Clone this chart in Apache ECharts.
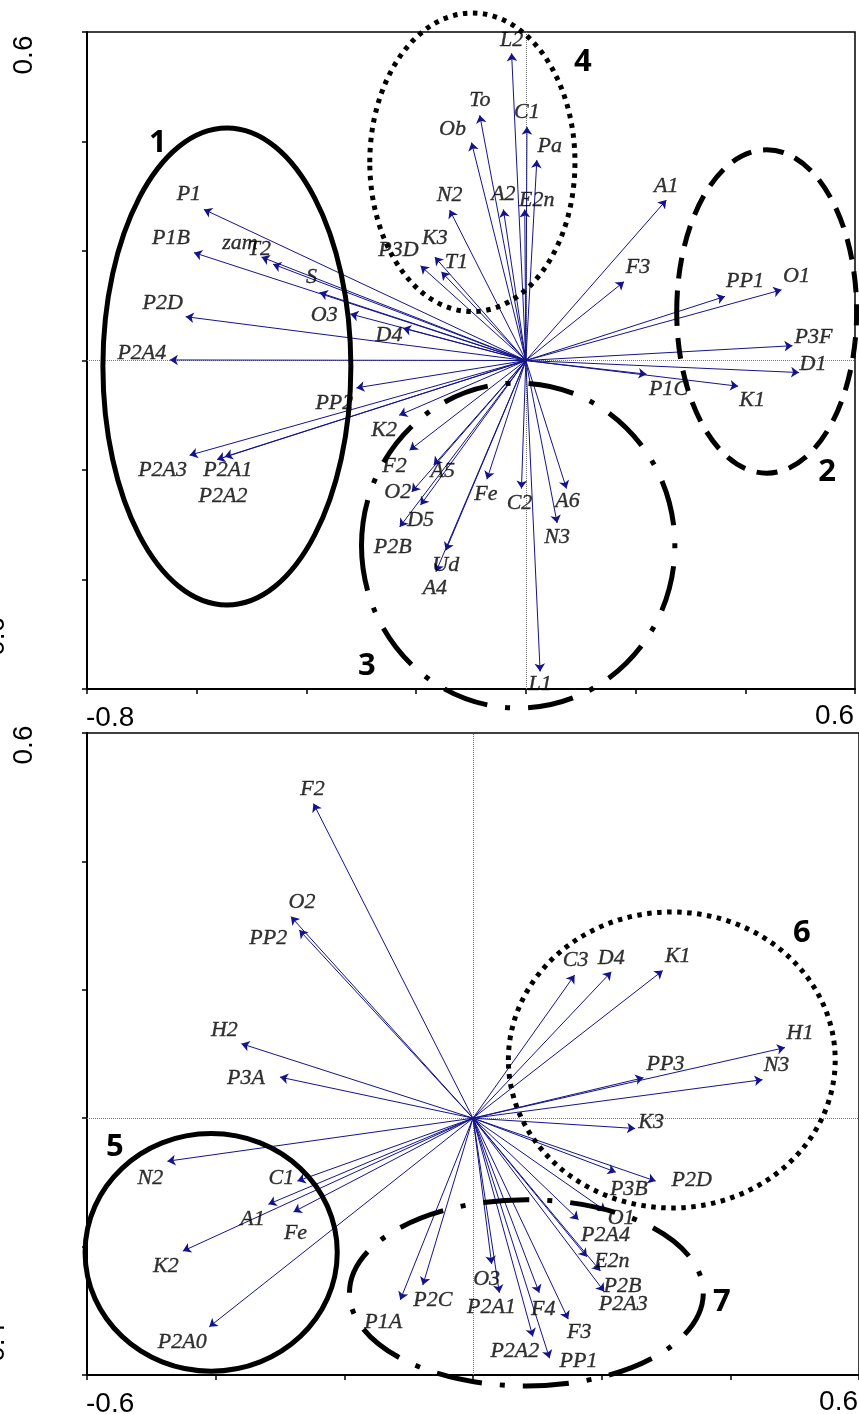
<!DOCTYPE html>
<html><head><meta charset="utf-8">
<script src="https://cdn.jsdelivr.net/npm/echarts@6/dist/echarts.min.js"></script>
<style>html,body{margin:0;padding:0;background:#fff}#c{width:859px;height:1414px}</style>
</head><body><div id="c"></div>
<script>
// ---------- Panel 1 (top) ----------
const topNames = ['L2','To','Ob','C1','Pa','N2','A2','E2n','A1','F3','PP1','O1','P3F','D1','P1C','K1','K3','T1','P3D','P1','P1B','zam','T2','S','O3','D4','P2D','P2A4','PP2','K2','P2A3','P2A1','P2A2','F2','A5','O2','D5','P2B','Ud','A4','Fe','C2','A6','N3','L1'];
const topX = [-0.026,-0.084,-0.099,0.002,0.020,-0.139,-0.041,-0.002,0.256,0.179,0.363,0.466,0.486,0.498,0.220,0.387,-0.166,-0.154,-0.192,-0.587,-0.605,-0.461,-0.482,-0.376,-0.320,-0.224,-0.620,-0.649,-0.309,-0.231,-0.613,-0.549,-0.563,-0.212,-0.168,-0.208,-0.192,-0.230,-0.146,-0.164,-0.071,-0.008,0.074,0.057,0.026];
const topY = [0.561,0.448,0.398,0.427,0.366,0.275,0.276,0.276,0.293,0.144,0.117,0.129,0.027,-0.022,-0.025,-0.047,0.189,0.162,0.173,0.276,0.197,0.176,0.189,0.124,0.085,0.059,0.080,0.001,-0.050,-0.100,-0.173,-0.176,-0.181,-0.164,-0.191,-0.240,-0.264,-0.304,-0.347,-0.386,-0.217,-0.234,-0.234,-0.297,-0.568];
const topXTicks = ['-0.8','0.6'];
const topYTicks = ['-0.6','0.6'];

// ---------- Panel 2 (bottom) ----------
const botNames = ['F2','O2','PP2','H2','P3A','C3','D4','K1','H1','PP3','N3','K3','P3B','P2D','O1','P2A4','E2n','P2B','P2A3','O3','P2A1','F4','F3','P2A2','PP1','N2','C1','A1','Fe','K2','P2A0','P1A','P2C'];
const botX = [-0.248,-0.283,-0.270,-0.360,-0.300,0.158,0.215,0.295,0.485,0.265,0.450,0.252,0.222,0.284,0.207,0.164,0.177,0.198,0.204,0.029,0.041,0.103,0.148,0.093,0.119,-0.475,-0.273,-0.318,-0.279,-0.451,-0.410,-0.113,-0.078];
const botY = [0.490,0.314,0.293,0.116,0.064,0.223,0.228,0.230,0.110,0.063,0.060,-0.016,-0.084,-0.098,-0.145,-0.158,-0.216,-0.238,-0.270,-0.227,-0.272,-0.272,-0.313,-0.340,-0.374,-0.067,-0.098,-0.134,-0.146,-0.207,-0.325,-0.283,-0.260];
const botXTicks = ['-0.6','0.6'];
const botYTicks = ['-0.4','0.6'];

// ---------- Group outlines (data units) ----------
const groupIds   = ['1','4','2','3','5','6','7'];
const groupPanel = [0,0,0,0,1,1,1];
const groupCx = [-0.545,-0.0975,0.439,-0.014,-0.407,0.309,0.083];
const groupCy = [-0.011,0.362,0.0895,-0.338,-0.209,0.0907,-0.272];
const groupRx = [0.226,0.187,0.164,0.2856,0.196,0.254,0.275];
const groupRy = [0.4356,0.2727,0.2953,0.2968,0.185,0.2305,0.145];
const groupLabelX = [-0.671,0.104,0.549,-0.29,-0.5565,0.511,0.387];
const groupLabelY = [0.397,0.545,-0.204,-0.558,-0.045,0.2885,-0.286];

// ---------- styles (label offsets in px, outline styles) ----------
const topOffsets = [[0,-13],[0,-15],[-19,-13],[0,-14],[13,-14],[0,-15],[0,-15],[12,-9],[0,-14],[14,-14],[20,-15],[15,-14],[21,-8],[14,-8],[22,15],[14,14],[0,-19],[15,-10],[-22,-16],[-15,-15],[-23,-14],[-33,-21],[-2,-8],[-8,-15],[-26,1],[-14,7],[-23,-13],[-28,-7],[-22,15],[-15,15],[-27,15],[3,13],[6,37],[-15,16],[9,6],[-14,0],[0,15],[-7,20],[0,15],[-1,16],[-1,15],[-2,15],[1,13],[0,14],[0,13]];
const botOffsets = [[-1,-14],[11,-14],[-31,8],[-17,-14],[-34,1],[1,-15],[0,-14],[15,-14],[15,-14],[22,-14],[14,-14],[16,-6],[13,17],[36,-1],[15,7],[27,16],[25,4],[22,15],[19,13],[-5,15],[-8,14],[4,16],[11,13],[-18,15],[29,3],[-17,17],[-16,-3],[-16,15],[2,21],[-17,15],[-27,15],[-17,22],[10,15]];
const DASH = {
  solid: null,
  dotted: [4.5,5.5],
  dashed: [21,12],
  dashdot: [46,18,5,18]
};
const groupStyle = ['solid','dotted','dashed','dashdot','solid','dotted','dashdot'];

const ARROW = '#13138c';
const LABEL_FONT = {fontFamily:'"Liberation Serif", "Times New Roman", serif', fontStyle:'italic', fontWeight:'normal', fontSize:22, color:'#000', textBorderColor:'#000', textBorderWidth:0.35};

function arrows(names, xs, ys, gi){
  return {type:'lines', coordinateSystem:'cartesian2d', xAxisIndex:gi, yAxisIndex:gi, z:3,
    symbol:['none','arrow'], symbolSize:[0,8], silent:true,
    lineStyle:{color:ARROW, width:1, opacity:1},
    data: names.map((n,i)=>({coords:[[0,0],[xs[i],ys[i]]]}))};
}
function labels(names, xs, ys, offs, gi){
  return {type:'scatter', xAxisIndex:gi, yAxisIndex:gi, symbolSize:0, z:4, silent:true,
    label:Object.assign({show:true, position:'inside', formatter:'{b}'}, LABEL_FONT),
    data: names.map((n,i)=>({name:n, value:[xs[i],ys[i]], label:{offset:offs[i]}})),
    markLine:{silent:true, symbol:['none','none'], label:{show:false}, z:1,
      lineStyle:{type:'dotted', color:'#777', width:1},
      data:[{xAxis:0},{yAxis:0}]}};
}
function axisCommon(){
  return {type:'value', interval:0.2, splitLine:{show:false}, axisLabel:{show:false},
    axisLine:{onZero:false, lineStyle:{color:'#000', width:2}},
    axisTick:{length:5, lineStyle:{color:'#000', width:1.5}}};
}

const chart = echarts.init(document.getElementById('c'));
chart.setOption({
  animation:false,
  backgroundColor:'#fff',
  grid:[
    {left:87, top:32, width:768, height:657, show:true, borderColor:'#000', borderWidth:1.5},
    {left:87, top:733, width:772, height:642, show:true, borderColor:'#000', borderWidth:1.5}
  ],
  xAxis:[
    Object.assign(axisCommon(), {gridIndex:0, min:-0.8, max:0.6}),
    Object.assign(axisCommon(), {gridIndex:1, min:-0.6, max:0.6})
  ],
  yAxis:[
    Object.assign(axisCommon(), {gridIndex:0, min:-0.6, max:0.6}),
    Object.assign(axisCommon(), {gridIndex:1, min:-0.4, max:0.6})
  ],
  series:[
    arrows(topNames, topX, topY, 0),
    labels(topNames, topX, topY, topOffsets, 0),
    arrows(botNames, botX, botY, 1),
    labels(botNames, botX, botY, botOffsets, 1)
  ]
});

// ---------- graphics: outlines, group numbers, tick labels ----------
const g = [];
const px = (gi, x, y) => chart.convertToPixel({gridIndex:gi}, [x, y]);
groupIds.forEach((id, i) => {
  const gi = groupPanel[i];
  const c = px(gi, groupCx[i], groupCy[i]);
  const e = px(gi, groupCx[i] + groupRx[i], groupCy[i] + groupRy[i]);
  const st = groupStyle[i];
  g.push({type:'ellipse', z:100, silent:true,
    shape:{cx:c[0], cy:c[1], rx:Math.abs(e[0]-c[0]), ry:Math.abs(c[1]-e[1])},
    style:{fill:null, stroke:'#000', lineWidth:5, lineDash:DASH[st], lineCap:'butt'}});
  const l = px(gi, groupLabelX[i], groupLabelY[i]);
  g.push({type:'text', z:101, silent:true, x:l[0], y:l[1],
    style:{text:id, fill:'#000', font:'bold 31px "Open Sans", "Liberation Sans", sans-serif', align:'center', verticalAlign:'middle'}});
});
const AXF = '28px "Liberation Sans", Arial, sans-serif';
function tickLabels(gi, xt, yt, ymaxDy, yminDx, yminDy){
  const a = px(gi, parseFloat(xt[0]), parseFloat(yt[0]));
  const b = px(gi, parseFloat(xt[1]), parseFloat(yt[0]));
  const t = px(gi, parseFloat(xt[0]), parseFloat(yt[1]));
  g.push({type:'text', silent:true, x:a[0]-1, y:a[1]+29, style:{text:xt[0], font:AXF, fill:'#000', align:'left', verticalAlign:'middle'}});
  g.push({type:'text', silent:true, x:b[0]-1, y:b[1]+27, style:{text:xt[1], font:AXF, fill:'#000', align:'right', verticalAlign:'middle'}});
  g.push({type:'text', silent:true, x:24, y:t[1]+ymaxDy, rotation:Math.PI/2, style:{text:yt[1], font:AXF, fill:'#000', align:'center', verticalAlign:'middle'}});
  g.push({type:'text', silent:true, x:yminDx, y:a[1]+yminDy, rotation:Math.PI/2, style:{text:yt[0], font:AXF, fill:'#000', align:'center', verticalAlign:'middle'}});
}
tickLabels(0, topXTicks, topYTicks, 23, -4, -48);
tickLabels(1, botXTicks, botYTicks, 12, -4, -28);
chart.setOption({graphic:g});
</script></body></html>
